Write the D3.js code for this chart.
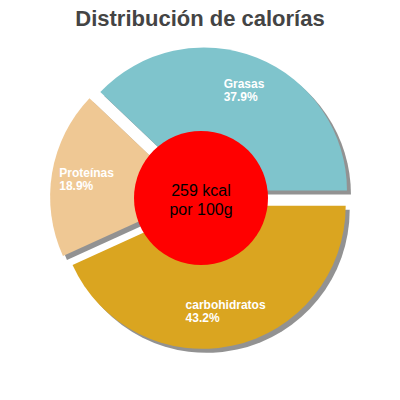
<!DOCTYPE html>
<html><head><meta charset="utf-8">
<script src="https://cdn.jsdelivr.net/npm/d3@7"></script>
<style>body{margin:0;background:#fff}</style>
</head><body>
<div id="chart"></div>
<script>
var labels = ['Grasas', 'carbohidratos', 'Proteínas'];
var values = [37.9, 43.2, 18.9];
var colors = ['#7fc4cc', '#daa520', '#efc894'];
var kcal = '259 kcal';
var per = 'por 100g';

var width = 400, height = 400;
var cx = 201, cy = 198, r = 143;

var svg = d3.select('#chart').append('svg')
    .attr('width', width).attr('height', height);

svg.append('text')
    .attr('x', 200).attr('y', 26)
    .attr('text-anchor', 'middle')
    .style('font', 'bold 22px "Liberation Sans", Arial, sans-serif')
    .style('fill', '#444')
    .text('Distribución de calorías');

var data = labels.map(function(l, i) { return {label: l, value: values[i], color: colors[i]}; });
var start = Math.PI / 2 - values[0] / 100 * 2 * Math.PI;
var pie = d3.pie().sort(null).value(function(d) { return d.value; })
    .startAngle(start).endAngle(start + 2 * Math.PI);
var arc = d3.arc().innerRadius(0).outerRadius(r);

var g = svg.append('g').attr('transform', 'translate(' + cx + ',' + cy + ')');
var slices = g.selectAll('g.slice').data(pie(data)).enter().append('g')
    .attr('transform', function(d) {
        var a = (d.startAngle + d.endAngle) / 2;
        return 'translate(' + (Math.sin(a) * 8) + ',' + (-Math.cos(a) * 8) + ')';
    });

slices.append('path')
    .attr('d', arc)
    .attr('transform', 'translate(4,4)')
    .style('fill', '#777').style('opacity', 0.8);
slices.append('path')
    .attr('d', arc)
    .style('fill', function(d) { return d.data.color; });

slices.each(function(d) {
    var a = (d.startAngle + d.endAngle) / 2;
    var rr = 108;
    var x = Math.sin(a) * rr, y = -Math.cos(a) * rr;
    var t = d3.select(this).append('text')
        .style('font', 'bold 12px "Liberation Sans", Arial, sans-serif')
        .style('fill', '#fff');
    var t1 = t.append('tspan').text(d.data.label);
    var w = t1.node().getComputedTextLength();
    t1.attr('x', x - w / 2).attr('y', y - 2);
    t.append('tspan').attr('x', x - w / 2).attr('y', y + 11).text(d.data.value + '%');
});

svg.append('circle').attr('cx', cx).attr('cy', cy).attr('r', 67).style('fill', 'red');
svg.append('text').attr('x', cx).attr('y', cy - 2).attr('text-anchor', 'middle')
    .style('font', '16px "Liberation Sans", Arial, sans-serif').text(kcal);
svg.append('text').attr('x', cx).attr('y', cy + 17).attr('text-anchor', 'middle')
    .style('font', '16px "Liberation Sans", Arial, sans-serif').text(per);
</script>
</body></html>
